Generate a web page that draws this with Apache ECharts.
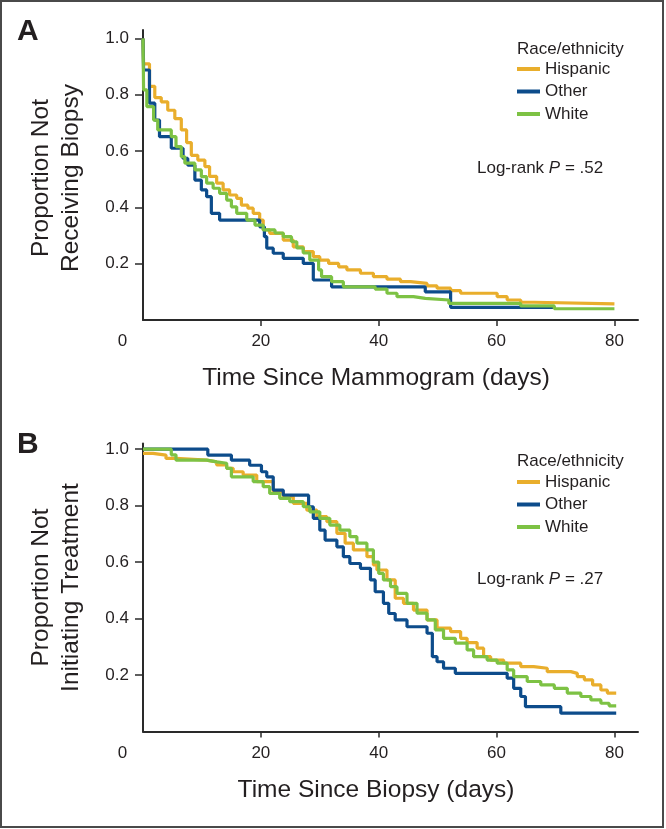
<!DOCTYPE html>
<html><head><meta charset="utf-8">
<script src="https://cdn.jsdelivr.net/npm/echarts@6/dist/echarts.min.js"></script>
<style>html,body{margin:0;padding:0;background:#fff}#c{width:666px;height:829px}</style>
</head><body><div id="c"></div><script>
const seriesNames = ['Hispanic', 'Other', 'White'];
const seriesColors = ['#E9AE2C', '#0D4C8B', '#7DC244'];
const xTickLabels = [0, 20, 40, 60, 80];
const yTickLabels = [0.2, 0.4, 0.6, 0.8, 1.0];
const panelLabels = ['A', 'B'];
const xTitles = ['Time Since Mammogram (days)', 'Time Since Biopsy (days)'];
const yTitles = ['Proportion Not\nReceiving Biopsy', 'Proportion Not\nInitiating Treatment'];
const pValues = ['.52', '.27'];

// Panel A: time to biopsy
const biopsyDaysHispanic = [0, 0.1, 1.1, 2.0, 3.1, 4.2, 5.4, 6.5, 7.4, 8.2, 9.3, 10.5, 11.3, 12.5, 13.6, 14.7, 15.9, 16.7, 17.8, 18.7, 19.8, 20.4, 21.5, 23.8, 25.5, 27.2, 28.9, 30.0, 31.5, 33.2, 34.6, 36.9, 39.1, 41.4, 43.7, 45.4, 48.2, 49.9, 52.2, 53.9, 60.1, 61.8, 64.1, 66.3, 80];
const biopsySurvHispanic = [1.0, 0.91, 0.83, 0.79, 0.775, 0.745, 0.715, 0.675, 0.63, 0.585, 0.568, 0.545, 0.51, 0.486, 0.462, 0.444, 0.432, 0.408, 0.397, 0.379, 0.355, 0.32, 0.308, 0.284, 0.26, 0.243, 0.225, 0.213, 0.201, 0.189, 0.178, 0.166, 0.154, 0.145, 0.136, 0.13, 0.121, 0.113, 0.104, 0.095, 0.083, 0.071, 0.063, 0.057, 0.057];
const biopsyDaysOther = [0, 0.1, 1.1, 2.0, 2.8, 4.8, 6.8, 7.6, 8.8, 9.9, 10.8, 11.6, 13.0, 19.8, 20.6, 21.0, 22.1, 23.8, 27.2, 28.9, 32.0, 47.9, 52.2, 69.8];
const biopsySurvOther = [1.0, 0.888, 0.77, 0.71, 0.651, 0.61, 0.574, 0.55, 0.497, 0.462, 0.438, 0.379, 0.355, 0.331, 0.296, 0.255, 0.237, 0.219, 0.201, 0.142, 0.118, 0.10, 0.045, 0.045];
const biopsyDaysWhite = [0, 0.1, 0.65, 1.8, 2.5, 4.8, 5.6, 6.5, 7.1, 8.8, 9.9, 10.8, 11.9, 13.0, 14.2, 15.0, 15.9, 17.6, 19.0, 20.4, 22.4, 23.8, 25.2, 26.1, 27.2, 28.3, 29.8, 30.3, 32.0, 34.0, 39.4, 41.4, 43.1, 45.9, 47.9, 51.9, 64.1, 69.8, 80];
const biopsySurvWhite = [1.0, 0.817, 0.758, 0.71, 0.675, 0.651, 0.616, 0.58, 0.557, 0.533, 0.509, 0.486, 0.468, 0.45, 0.426, 0.402, 0.379, 0.355, 0.337, 0.32, 0.309, 0.296, 0.278, 0.256, 0.238, 0.213, 0.178, 0.154, 0.136, 0.118, 0.11, 0.095, 0.083, 0.077, 0.071, 0.059, 0.05, 0.04, 0.04];

// Panel B: time to treatment
const treatDaysHispanic = [0, 1.7, 3.9, 5.6, 10.8, 12.5, 14.2, 15.3, 17.0, 19.3, 22.1, 23.8, 25.5, 27.8, 29.5, 31.2, 32.9, 34.3, 35.7, 38.0, 39.1, 39.7, 41.4, 42.8, 44.2, 45.9, 48.2, 49.9, 52.2, 53.9, 55.0, 56.7, 57.8, 59.0, 61.2, 64.1, 66.3, 68.6, 72.6, 73.7, 74.9, 76.3, 77.7, 78.8, 80.3];
const treatSurvHispanic = [0.985, 0.979, 0.967, 0.961, 0.955, 0.944, 0.932, 0.92, 0.908, 0.885, 0.849, 0.832, 0.808, 0.784, 0.761, 0.743, 0.702, 0.667, 0.643, 0.619, 0.59, 0.572, 0.537, 0.472, 0.454, 0.43, 0.395, 0.366, 0.354, 0.33, 0.315, 0.295, 0.265, 0.253, 0.242, 0.23, 0.224, 0.212, 0.206, 0.194, 0.183, 0.165, 0.147, 0.136, 0.136];
const treatDaysOther = [0, 11.0, 15.0, 18.1, 20.1, 21.0, 22.1, 23.8, 28.1, 28.9, 30.0, 30.9, 32.9, 34.0, 35.1, 36.9, 38.6, 39.4, 40.8, 41.7, 42.8, 44.8, 48.2, 49.1, 49.9, 51.0, 53.0, 61.8, 62.9, 64.1, 64.9, 70.9, 80.3];
const treatSurvOther = [1.0, 0.979, 0.961, 0.943, 0.92, 0.902, 0.855, 0.837, 0.796, 0.755, 0.713, 0.678, 0.654, 0.619, 0.595, 0.578, 0.537, 0.495, 0.454, 0.418, 0.395, 0.371, 0.348, 0.265, 0.247, 0.224, 0.206, 0.189, 0.153, 0.124, 0.088, 0.065, 0.065];
const treatDaysWhite = [0, 4.8, 5.6, 10.8, 12.5, 14.2, 15.0, 18.7, 20.4, 21.5, 23.2, 24.9, 27.2, 28.3, 30.0, 31.7, 33.4, 35.1, 36.3, 38.0, 39.1, 40.0, 40.8, 42.0, 43.1, 44.8, 46.5, 48.2, 49.6, 51.0, 53.0, 55.0, 56.1, 58.4, 60.1, 61.8, 62.9, 65.2, 67.5, 69.8, 72.0, 74.3, 76.0, 77.7, 79.1, 80.3];
const treatSurvWhite = [1.0, 0.98, 0.961, 0.955, 0.95, 0.932, 0.902, 0.885, 0.867, 0.843, 0.826, 0.814, 0.796, 0.778, 0.755, 0.731, 0.713, 0.69, 0.667, 0.643, 0.6, 0.56, 0.537, 0.513, 0.489, 0.454, 0.419, 0.395, 0.36, 0.33, 0.313, 0.289, 0.265, 0.253, 0.242, 0.218, 0.194, 0.177, 0.165, 0.153, 0.136, 0.124, 0.112, 0.1, 0.091, 0.091];

const panels = [
  [[biopsyDaysHispanic, biopsySurvHispanic], [biopsyDaysOther, biopsySurvOther], [biopsyDaysWhite, biopsySurvWhite]],
  [[treatDaysHispanic, treatSurvHispanic], [treatDaysOther, treatSurvOther], [treatDaysWhite, treatSurvWhite]]
];

const FONT = "'Liberation Sans', Arial, Helvetica, sans-serif";
const INK = '#231f20';
const AXIS = '#2a2a2a';

const grids = [
  { left: 143, top: 30, width: 495, height: 290 },
  { left: 143, top: 443.5, width: 495, height: 288 }
];
const yMax = [1.03, 1.02];
const yNamePad = [[0, 6, 0, 0], [0, 0, 0, 0]];

const xAxes = grids.map((g, i) => ({
  type: 'value', gridIndex: i, min: 0, max: 84,
  axisLine: { show: true, lineStyle: { color: AXIS, width: 2 } },
  axisTick: { show: true, customValues: xTickLabels.slice(1), length: 6, lineStyle: { color: AXIS, width: 1.5 } },
  axisLabel: {
    customValues: xTickLabels, margin: 13, fontSize: 17, color: INK, fontFamily: FONT,
    formatter: v => v === 0 ? '{z|0}' : String(v),
    rich: { z: { fontSize: 17, color: INK, fontFamily: FONT, padding: [0, 41, 0, 0] } }
  },
  splitLine: { show: false },
  name: xTitles[i], nameLocation: 'middle', nameGap: 46,
  nameTextStyle: { fontSize: 24.5, color: INK, fontFamily: FONT, padding: [0, 29, 0, 0] }
}));

const yAxes = grids.map((g, i) => ({
  type: 'value', gridIndex: i, min: 0, max: yMax[i],
  axisLine: { show: true, lineStyle: { color: AXIS, width: 2 } },
  axisTick: { show: true, customValues: yTickLabels, length: 8, lineStyle: { color: AXIS, width: 1.5 } },
  axisLabel: { customValues: yTickLabels, margin: 14, fontSize: 17, color: INK, fontFamily: FONT, formatter: v => v.toFixed(1) },
  splitLine: { show: false },
  name: yTitles[i], nameLocation: 'middle', nameGap: 57, nameRotate: 90,
  nameTextStyle: { fontSize: 24.5, lineHeight: 30, color: INK, fontFamily: FONT, padding: yNamePad[i] }
}));

const series = [];
panels.forEach((p, pi) => {
  p.forEach((pair, si) => {
    const [days, surv] = pair;
    series.push({
      name: seriesNames[si], type: 'line', step: 'end',
      xAxisIndex: pi, yAxisIndex: pi,
      data: days.map((d, k) => [d, surv[k]]),
      showSymbol: false, symbol: 'none',
      color: seriesColors[si],
      lineStyle: { width: 3.2, color: seriesColors[si] },
      z: 2 + si, animation: false
    });
  });
});

const legendTops = [60.5, 473.5];
const legends = legendTops.map(t => ({
  data: seriesNames, orient: 'vertical', left: 517, top: t, padding: 0,
  itemWidth: 23, itemHeight: 4, itemGap: 5.5, icon: 'rect',
  textStyle: { fontSize: 17, color: INK, fontFamily: FONT },
  selectedMode: false
}));

const graphic = [
  { type: 'rect', shape: { x: 1, y: 1, width: 662, height: 826 }, style: { fill: 'none', stroke: '#4a4a4a', lineWidth: 2 }, silent: true },
  { type: 'text', left: 17, top: 17, style: { text: panelLabels[0], font: 'bold 30px ' + FONT, fill: INK } },
  { type: 'text', left: 17, top: 430, style: { text: panelLabels[1], font: 'bold 30px ' + FONT, fill: INK } },
  { type: 'text', left: 517, top: 40.5, style: { text: 'Race/ethnicity', font: '17px ' + FONT, fill: INK } },
  { type: 'text', left: 517, top: 452.5, style: { text: 'Race/ethnicity', font: '17px ' + FONT, fill: INK } },
  { type: 'text', left: 477, top: 159.5, style: { text: 'Log-rank {i|P} = ' + pValues[0], font: '17px ' + FONT, fill: INK, rich: { i: { fontStyle: 'italic', fontSize: 17, fontFamily: FONT, fill: INK } } } },
  { type: 'text', left: 477, top: 570.5, style: { text: 'Log-rank {i|P} = ' + pValues[1], font: '17px ' + FONT, fill: INK, rich: { i: { fontStyle: 'italic', fontSize: 17, fontFamily: FONT, fill: INK } } } }
];

const chart = echarts.init(document.getElementById('c'), null, { renderer: 'canvas' });
chart.setOption({
  backgroundColor: '#ffffff',
  animation: false,
  textStyle: { fontFamily: FONT },
  grid: grids,
  xAxis: xAxes,
  yAxis: yAxes,
  legend: legends,
  series: series,
  graphic: graphic
});
</script></body></html>
